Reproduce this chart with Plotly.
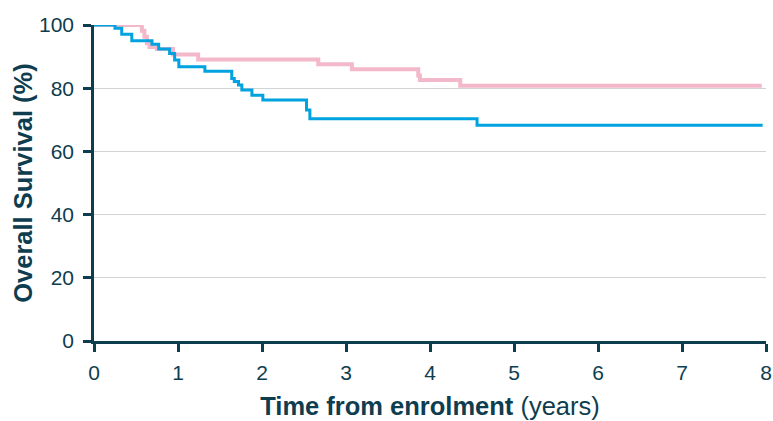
import plotly.graph_objects as go

# Kaplan-Meier style overall survival, two groups (years, % surviving)
pink_years = [0, 0.57, 0.60, 0.63, 0.66, 0.75, 0.94, 1.24, 2.67, 3.07, 3.86, 3.88, 4.36, 7.95]
pink_surv = [100, 98.2, 96.3, 94.2, 93.0, 92.4, 90.7, 89.1, 87.6, 86.0, 84.0, 82.6, 80.8, 80.8]

blue_years = [0, 0.25, 0.33, 0.45, 0.69, 0.77, 0.90, 0.96, 1.01, 1.32, 1.64, 1.67, 1.72, 1.76,
              1.88, 2.01, 2.53, 2.57, 4.56, 7.96]
blue_surv = [100, 99.0, 97.1, 95.0, 93.9, 92.4, 91.0, 88.9, 86.8, 85.4, 83.1, 82.1, 81.0, 79.4,
             77.8, 76.3, 73.1, 70.3, 68.3, 68.3]

x_ticks = [0, 1, 2, 3, 4, 5, 6, 7, 8]
y_ticks = [0, 20, 40, 60, 80, 100]

INK = "#0e3d4f"
FONT = "Liberation Sans, Arial, sans-serif"

fig = go.Figure()
fig.add_trace(go.Scatter(
    x=pink_years, y=pink_surv, mode="lines", line_shape="hv",
    line=dict(color="#f4b8cb", width=4), cliponaxis=False, showlegend=False,
))
fig.add_trace(go.Scatter(
    x=blue_years, y=blue_surv, mode="lines", line_shape="hv",
    line=dict(color="#00a3e0", width=3), cliponaxis=False, showlegend=False,
))

fig.update_layout(
    width=773, height=421,
    margin=dict(l=94, r=7, t=25, b=80, autoexpand=False),
    paper_bgcolor="white", plot_bgcolor="white",
    font=dict(family=FONT, color=INK, size=21),
)
fig.update_xaxes(
    range=[0, 8], tickvals=x_ticks, ticktext=[str(v) for v in x_ticks],
    showgrid=False, zeroline=False, automargin=False,
    showline=True, linecolor=INK, linewidth=2.5,
    ticks="outside", ticklen=8, tickwidth=2.5, tickcolor=INK,
    tickfont=dict(size=21, color=INK), ticklabelstandoff=3,
    title=dict(text="<b>Time from enrolment</b> (years)", font=dict(size=25.5, color=INK), standoff=15),
)
fig.update_yaxes(
    range=[0, 100], tickvals=y_ticks, ticktext=[str(v) for v in y_ticks],
    showgrid=True, gridcolor="#d3d3d3", gridwidth=1, zeroline=False, automargin=False,
    showline=True, linecolor=INK, linewidth=2.5,
    ticks="outside", ticklen=8, tickwidth=2.5, tickcolor=INK,
    tickfont=dict(size=21, color=INK), ticklabelstandoff=5,
    title=dict(text="<b>Overall Survival (%)</b>", font=dict(size=25.5, color=INK), standoff=0),
)

fig.write_html("out.html")
